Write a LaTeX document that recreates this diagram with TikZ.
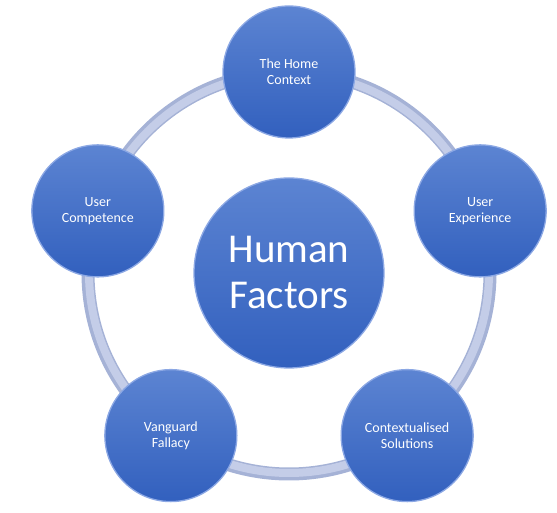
\documentclass[tikz,border=0pt]{standalone}
\usepackage{fontspec}
\setmainfont{Carlito}
\usepackage{xcolor}
\definecolor{hfTop}{RGB}{92,132,210}
\definecolor{hfBottom}{RGB}{50,96,190}
\definecolor{hfRim}{RGB}{140,168,228}
\definecolor{hfRing}{RGB}{196,205,232}
\definecolor{hfRingEdge}{RGB}{165,178,214}
\usetikzlibrary{calc}
\tikzset{
  ball/.style={circle,shading=axis,top color=hfTop,bottom color=hfBottom,
    draw=hfRim,line width=1.3pt,text=white,align=center,
    minimum size=#1,inner sep=0pt},
  ball/.default=132pt,
  factor/.style={ball,font=\fontsize{14}{16}\selectfont},
  hub/.style={ball=190pt,font=\fontsize{41}{46}\selectfont},
  ring/.style={draw=hfRingEdge,line width=13pt},
  ringtop/.style={draw=hfRing,line width=8pt}
}

\begin{document}
\begin{tikzpicture}[x=1pt,y=1pt]
  \useasboundingbox (0,0) rectangle (557,513);
  \coordinate (c) at (289,240);
  % the ring behind the factors
  \draw[ring] (c) circle (201);
  \draw[ringtop] (c) circle (200);
  \node[hub] (human) at (c) {Human\\Factors};
  \node[factor] (home) at ($(c)+(90:201)$) {The Home\\Context};
  \node[factor] (experience) at ($(c)+(18:201)$) {User\\Experience};
  \node[factor] (solutions) at ($(c)+(-54:201)$) {Contextualised\\Solutions};
  \node[factor] (vanguard) at ($(c)+(-126:201)$) {Vanguard\\Fallacy};
  \node[factor] (competence) at ($(c)+(162:201)$) {User\\Competence};
\end{tikzpicture}
\end{document}
